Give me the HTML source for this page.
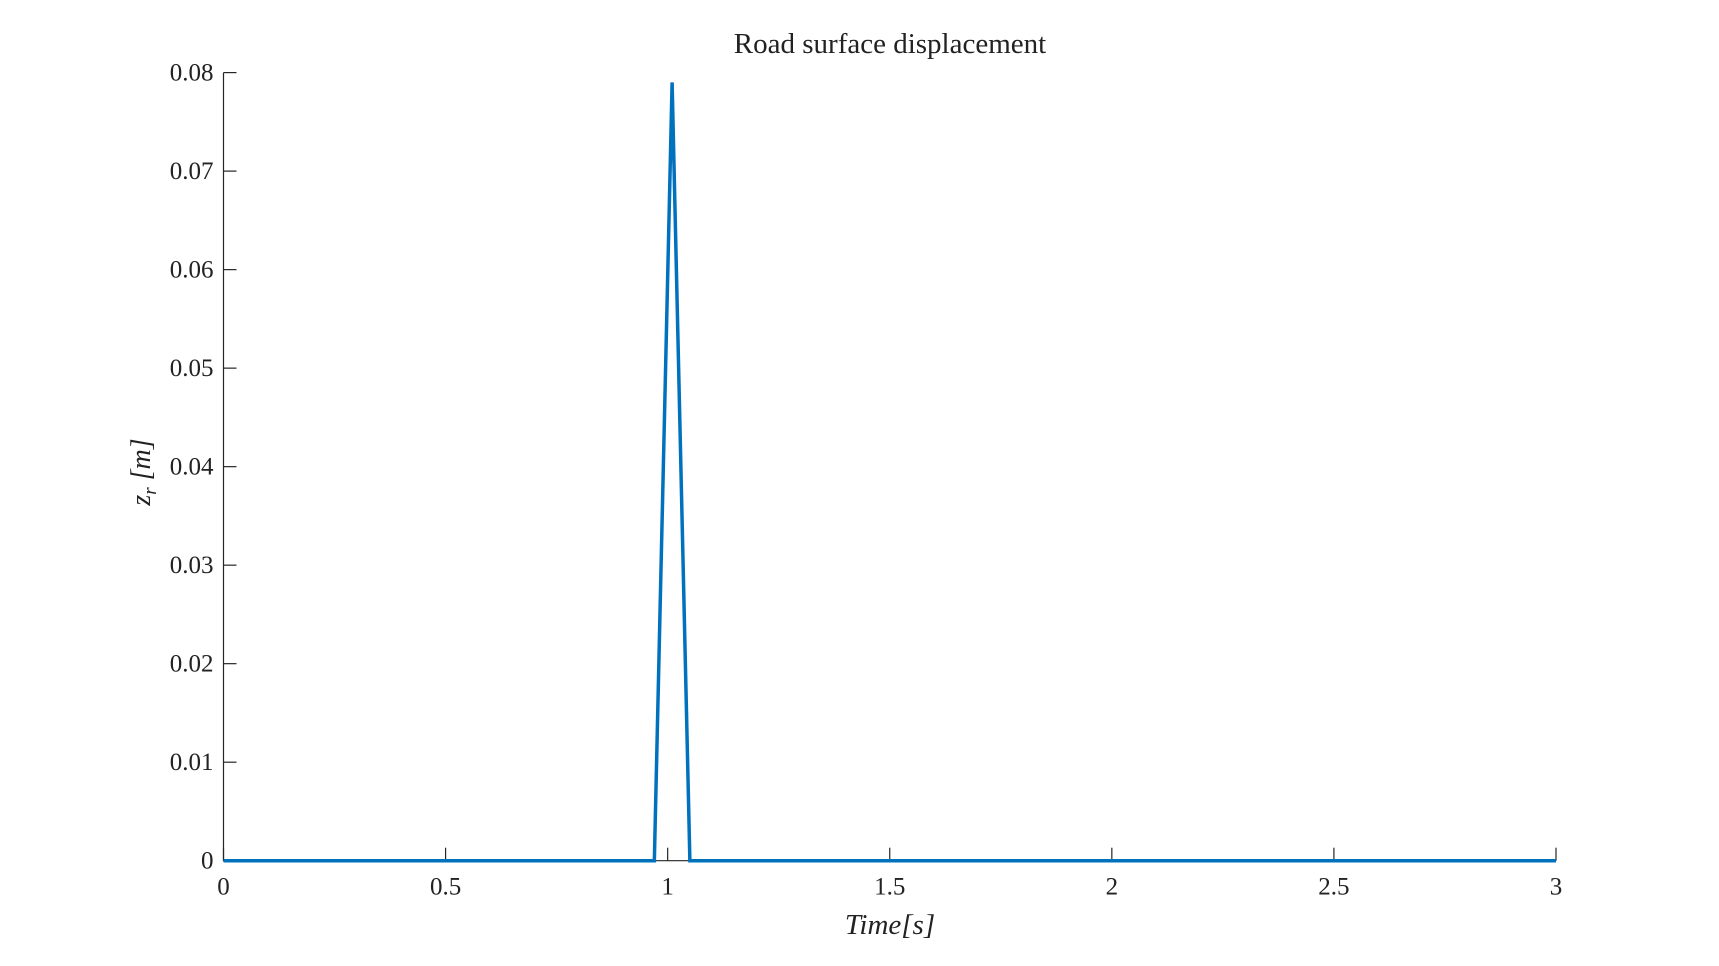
<!DOCTYPE html>
<html><head><meta charset="utf-8"><style>
html,body{margin:0;padding:0;background:#fff;}
svg{display:block;font-family:"Liberation Serif",serif;}
</style></head><body>
<svg id="chart" width="1719" height="966">
<rect width="1719" height="966" fill="#fff"/>
<text x="890" y="53" font-size="29" text-anchor="middle" fill="#222">Road surface displacement</text>
<g id="axes"></g>
<text x="890" y="934" font-size="29" font-style="italic" text-anchor="middle" fill="#222">Time[s]</text>
<text transform="translate(150,472) rotate(-90)" font-size="28" font-style="italic" text-anchor="middle" fill="#222">z<tspan font-size="19" dy="6">r</tspan><tspan dy="-6"> [m]</tspan></text>
</svg>
<script>
const xTicks=[0,0.5,1,1.5,2,2.5,3];
const xTickLabels=["0","0.5","1","1.5","2","2.5","3"];
const yTicks=[0,0.01,0.02,0.03,0.04,0.05,0.06,0.07,0.08];
const yTickLabels=["0","0.01","0.02","0.03","0.04","0.05","0.06","0.07","0.08"];
const times=[0,0.97,1.01,1.05,3];
const disp=[0,0,0.079,0,0];
const L=223.5,R=1556,T=72.6,B=860.7;
const sx=v=>L+(v-0)/(3-0)*(R-L);
const sy=v=>B-(v-0)/(0.08-0)*(B-T);
const ns="http://www.w3.org/2000/svg";
const g=document.getElementById('axes');
function mk(t,a){const e=document.createElementNS(ns,t);for(const k in a)e.setAttribute(k,a[k]);g.appendChild(e);return e;}
let ax=mk('path',{d:`M${L},${T}L${L},${B}L${R},${B}`,fill:'none',stroke:'#262626','stroke-width':1.2});


xTicks.forEach((v,i)=>{
 const t=mk('line',{x1:sx(v),x2:sx(v),y1:B,y2:B-13,stroke:'#262626','stroke-width':1.2});
 
 
 const l=mk('text',{x:sx(v),y:B+34,'font-size':25,'text-anchor':'middle',fill:'#222'});
 l.textContent=xTickLabels[i];
 
 
});
yTicks.forEach((v,i)=>{
 const t=mk('line',{x1:L,x2:L+13,y1:sy(v),y2:sy(v),stroke:'#262626','stroke-width':1.2});
 
 
 const l=mk('text',{x:L-10,y:sy(v)+8,'font-size':25,'text-anchor':'end',fill:'#222'});
 l.textContent=yTickLabels[i];
 
 
});
const line=mk('polyline',{points:times.map((t,i)=>sx(t)+','+sy(disp[i])).join(' '),fill:'none',stroke:'#0072BD','stroke-width':3.5,'stroke-linejoin':'miter'});


</script>
</body></html>
